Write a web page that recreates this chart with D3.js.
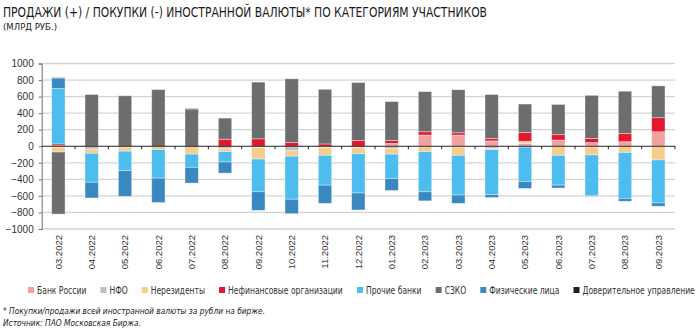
<!DOCTYPE html>
<html><head><meta charset="utf-8">
<script src="https://cdn.jsdelivr.net/npm/d3@7"></script>
<style>
html,body{margin:0;padding:0;background:#fff;}
svg{display:block;}
.cond{font-family:"Liberation Sans Narrow","DejaVu Sans Condensed","Roboto Condensed","Liberation Sans",sans-serif;}
.ax{font-family:"Liberation Sans",Arial,sans-serif;}
</style></head>
<body>
<svg id="chart" width="700" height="330"></svg>
<script>
const title = "ПРОДАЖИ (+) / ПОКУПКИ (-) ИНОСТРАННОЙ ВАЛЮТЫ* ПО КАТЕГОРИЯМ УЧАСТНИКОВ";
const subtitle = "(МЛРД РУБ.)";
const footnote = "* Покупки/продажи всей иностранной валюты за рубли на бирже.";
const source = "Источник: ПАО Московская Биржа.";

const months = ["03.2022","04.2022","05.2022","06.2022","07.2022","08.2022","09.2022","10.2022","11.2022","12.2022",
                "01.2023","02.2023","03.2023","04.2023","05.2023","06.2023","07.2023","08.2023","09.2023"];
const seriesNames = ["Банк России","НФО","Нерезиденты","Нефинансовые организации","Прочие банки","СЗКО","Физические лица","Доверительное управление"];
const seriesColors = ["#f2a1a2","#bfbfbf","#f7cd8c","#e3182f","#4cbdee","#6b6d6e","#3a88c0","#1f1f1f"];

const bankRussia = [8, 0, 0, 0, 0, 0, 0, 0, 0, 0, 35, 135, 135, 65, 35, 75, 45, 55, 175];
const nfo        = [-15, -35, -10, 0, 0, -30, -15, -55, -15, -15, -30, 0, -10, -25, -10, 0, -10, 0, 0];
const nonres     = [-55, -50, -50, -40, -95, -35, -140, -65, -95, -75, -65, -65, -100, -15, 25, -110, -95, -75, -165];
const nonfin     = [20, 0, 0, 0, 0, 85, 90, 45, 28, 70, 35, 40, 28, 30, 105, 65, 50, 100, 170];
const otherBanks = [670, -350, -235, -345, -160, -125, -395, -520, -360, -475, -295, -485, -480, -545, -415, -360, -490, -555, -520];
const szko       = [-750, 625, 610, 685, 450, 255, 685, 770, 660, 700, 470, 485, 520, 530, 345, 365, 520, 510, 385];
const individuals= [125, -190, -310, -295, -190, -135, -225, -175, -220, -205, -145, -110, -100, -35, -85, -35, -10, -35, -40];
const trust      = [5, 0, 0, 0, 5, 0, 0, 0, 0, 0, 0, 0, 0, 0, 0, 0, 0, 0, 0];

const yTicks = [1000, 800, 600, 400, 200, 0, -200, -400, -600, -800, -1000];

const seriesData = [bankRussia, nfo, nonres, nonfin, otherBanks, szko, individuals, trust];
const rows = months.map((m, i) => {
  const r = {month: m};
  seriesNames.forEach((s, k) => r[s] = seriesData[k][i]);
  return r;
});

const svg = d3.select("#chart");
svg.append("rect").attr("width",700).attr("height",330).attr("fill","#fff");

const pLeft = 41.7, pRight = 675, pTop = 63.5, pBottom = 229;
const x = d3.scaleBand().domain(months).range([pLeft, pRight]).paddingInner(0.6).paddingOuter(0.3);
const y = d3.scaleLinear().domain([-1000, 1000]).range([pBottom, pTop]);

// title
svg.append("text").attr("class","cond").attr("x",3).attr("y",17)
  .attr("font-size",14).attr("fill","#1a1a1a").attr("textLength",484).attr("lengthAdjust","spacingAndGlyphs")
  .text(title);
svg.append("text").attr("class","cond").attr("x",3).attr("y",30)
  .attr("font-size",9.5).attr("fill","#1a1a1a").attr("textLength",54).attr("lengthAdjust","spacingAndGlyphs")
  .text(subtitle);

// gridlines
svg.append("g").selectAll("line").data(yTicks.filter(v => v !== 0)).join("line")
  .attr("x1", pLeft).attr("x2", pRight).attr("y1", d => y(d)).attr("y2", d => y(d))
  .attr("stroke","#d4d4d4").attr("stroke-width",1.3);

// y axis
const yAxis = d3.axisLeft(y).tickValues(yTicks).tickSize(3).tickPadding(5).tickFormat(d3.format("d"));
const gy = svg.append("g").attr("class","ax").attr("transform",`translate(${pLeft},0)`).call(yAxis);
gy.select(".domain").attr("stroke","#6e6e6e");
gy.selectAll(".tick line").attr("stroke","#6e6e6e");
gy.selectAll(".tick text").attr("font-size",10).attr("fill","#333").attr("font-family","Liberation Sans, Arial, sans-serif");

// bars
const stack = d3.stack().keys(seriesNames).offset(d3.stackOffsetDiverging);
const layers = stack(rows);
svg.append("g").selectAll("g").data(layers).join("g")
  .attr("fill", (d, i) => seriesColors[i])
  .selectAll("rect").data(d => d).join("rect")
  .attr("x", d => x(d.data.month))
  .attr("width", x.bandwidth())
  .attr("y", d => y(Math.max(d[0], d[1])))
  .attr("height", d => Math.abs(y(d[0]) - y(d[1])))
  .attr("stroke","rgba(255,255,255,0.45)").attr("stroke-width",0.8);

// zero line + category ticks
svg.append("line").attr("x1",pLeft).attr("x2",pRight).attr("y1",y(0)).attr("y2",y(0))
  .attr("stroke","#222").attr("stroke-width",1);
svg.append("g").selectAll("line").data(months).join("line")
  .attr("x1", d => x(d) + x.bandwidth()/2 + x.step()/2).attr("x2", d => x(d) + x.bandwidth()/2 + x.step()/2)
  .attr("y1", y(0)).attr("y2", y(0) + 3).attr("stroke","#222").attr("stroke-width",1);

// x labels
svg.append("g").selectAll("text").data(months).join("text")
  .attr("class","ax")
  .attr("transform", d => `translate(${x(d) + x.bandwidth()/2},235) rotate(-90)`)
  .attr("text-anchor","end").attr("dy","0.35em")
  .attr("font-size",9.5).attr("fill","#333")
  .text(d => d);

// legend: horizontally condensed to fit between legX0 and legX1
const legX0 = 28, legX1 = 695, mark = 6, markGap = 3, itemGap = 14;
const lg = svg.append("g").attr("class","cond");
const items = seriesNames.map(s => {
  const g = lg.append("g");
  const t = g.append("text").attr("x", 0).attr("y", 0).attr("font-size",10).attr("fill","#333").text(s);
  return {g, t};
});
const natural = items.map(o => o.t.node().getComputedTextLength());
const avail = (legX1 - legX0) - seriesNames.length * (mark + markGap) - (seriesNames.length - 1) * itemGap;
const k = Math.min(1, avail / d3.sum(natural));
let lx = legX0;
seriesNames.forEach((s, i) => {
  lg.append("rect").attr("x", lx).attr("y", 287).attr("width", mark).attr("height", mark).attr("fill", seriesColors[i]);
  items[i].g.attr("transform", `translate(${lx + mark + markGap},294) scale(${k},1)`);
  lx += mark + markGap + natural[i] * k + itemGap;
});

// footnotes
svg.append("text").attr("class","cond").attr("x",3).attr("y",314).attr("font-size",9.5)
  .attr("font-style","italic").attr("fill","#222").attr("textLength",262).attr("lengthAdjust","spacingAndGlyphs")
  .text(footnote);
svg.append("text").attr("class","cond").attr("x",3).attr("y",326).attr("font-size",9.5)
  .attr("font-style","italic").attr("fill","#222").attr("textLength",138).attr("lengthAdjust","spacingAndGlyphs")
  .text(source);
</script>
</body></html>
